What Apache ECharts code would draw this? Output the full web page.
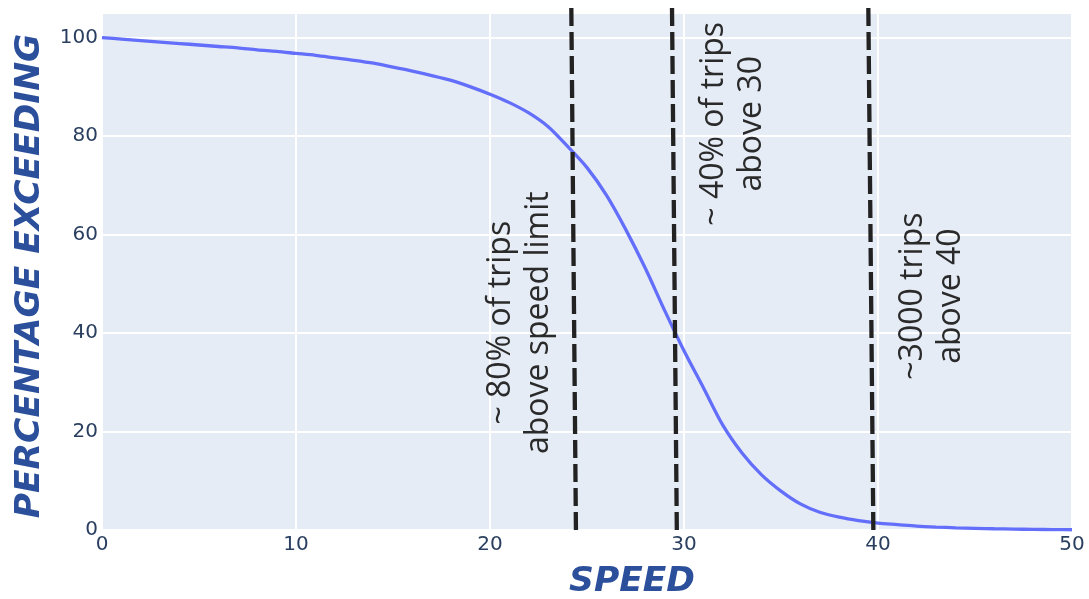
<!DOCTYPE html>
<html>
<head>
<meta charset="utf-8">
<script src="https://cdn.jsdelivr.net/npm/echarts@6/dist/echarts.min.js"></script>
<style>
html,body{margin:0;padding:0;background:#fff;}
#chart{width:1089px;height:599px;}
</style>
</head>
<body>
<div id="chart"></div>
<script>
// ---- data ----
const speeds = [0,1,2,3,4,5,6,7,8,9,10,11,12,13,14,15,16,17,18,19,20,21,22,23,24,25,26,27,28,29,30,31,32,33,34,35,36,37,38,39,40,41,42,43,44,45,46,47,48,49,50];
const pctExceeding = [100,99.7,99.4,99.1,98.8,98.5,98.2,97.9,97.5,97.2,96.8,96.4,95.9,95.4,94.8,94.0,93.2,92.3,91.3,90.0,88.5,86.8,84.7,81.9,77.9,73.6,68.0,61.0,53.2,44.6,36.4,28.9,21.3,15.6,11.2,7.9,5.3,3.6,2.6,1.9,1.4,1.1,0.8,0.6,0.45,0.35,0.25,0.18,0.12,0.08,0.05];

// vertical dashed reference lines (slightly slanted in the original)
const refLineBottomX = [24.43, 29.63, 39.76];
const refLineTopX = [24.19, 29.38, 39.50];
const refLineBottomY = 0;
const refLineTopY = 106.8;

// annotations
const annoX = [21.55, 32.5, 42.76];
const annoY = [42.1, 82.5, 47.5];
const annoText = ['~ 80% of trips\nabove speed limit', '~ 40% of trips\nabove 30', '~3000 trips\nabove 40'];

const xTitle = 'SPEED';
const yTitle = 'PERCENTAGE EXCEEDING';

// ---- chart ----
const chart = echarts.init(document.getElementById('chart'), null, {renderer: 'canvas'});

const curve = speeds.map((s, i) => [s, pctExceeding[i]]);

const refSeries = refLineBottomX.map((bx, i) => ({
  type: 'line',
  data: [[bx, refLineBottomY], [refLineTopX[i], refLineTopY]],
  symbol: 'none',
  clip: false,
  silent: true,
  z: 5,
  lineStyle: {color: '#222222', width: 4.3, type: [18, 6], cap: 'butt'}
}));

const annoSeries = {
  type: 'scatter',
  data: annoX.map((x, i) => ({value: [x, annoY[i]], label: {formatter: annoText[i]}})),
  symbolSize: 1,
  itemStyle: {color: 'rgba(0,0,0,0)'},
  silent: true,
  z: 6,
  label: {
    show: true,
    position: 'inside',
    rotate: 90,
    align: 'center',
    verticalAlign: 'middle',
    fontFamily: 'Open Sans',
    fontSize: 32,
    lineHeight: 38,
    color: '#2a2a2a',
    opacity: 1
  }
};

chart.setOption({
  animation: false,
  backgroundColor: '#ffffff',
  grid: {left: 102, right: 17, top: 13, bottom: 69, show: true, backgroundColor: '#E5ECF6', borderWidth: 0},
  xAxis: {
    type: 'value', min: 0, max: 50, interval: 10,
    axisLine: {show: false}, axisTick: {show: false},
    splitLine: {show: true, lineStyle: {color: '#ffffff', width: 2}},
    axisLabel: {color: '#2a3f5f', fontFamily: 'DejaVu Sans', fontSize: 20, margin: 5}
  },
  yAxis: {
    type: 'value', min: 0, max: 105, interval: 20,
    axisLine: {show: false}, axisTick: {show: false},
    splitLine: {show: true, lineStyle: {color: '#ffffff', width: 2}},
    axisLabel: {color: '#2a3f5f', fontFamily: 'DejaVu Sans', fontSize: 20, margin: 4, showMaxLabel: false,
      formatter: v => (v % 20 === 0 ? String(v) : '')}
  },
  graphic: [
    {type: 'text', x: 632, y: 582, style: {text: xTitle, fill: '#2b4f9b', font: 'italic bold 34.5px "DejaVu Sans"', textAlign: 'center', textVerticalAlign: 'middle'}},
    {type: 'text', x: 30, y: 276, rotation: Math.PI / 2, style: {text: yTitle, fill: '#2b4f9b', font: 'italic bold 34.5px "DejaVu Sans"', textAlign: 'center', textVerticalAlign: 'middle'}}
  ],
  series: [
    {
      type: 'line',
      data: curve,
      symbol: 'none',
      smooth: 0.3,
      lineStyle: {color: '#636efa', width: 3.3},
      z: 3
    },
    ...refSeries,
    annoSeries
  ]
});
</script>
</body>
</html>
